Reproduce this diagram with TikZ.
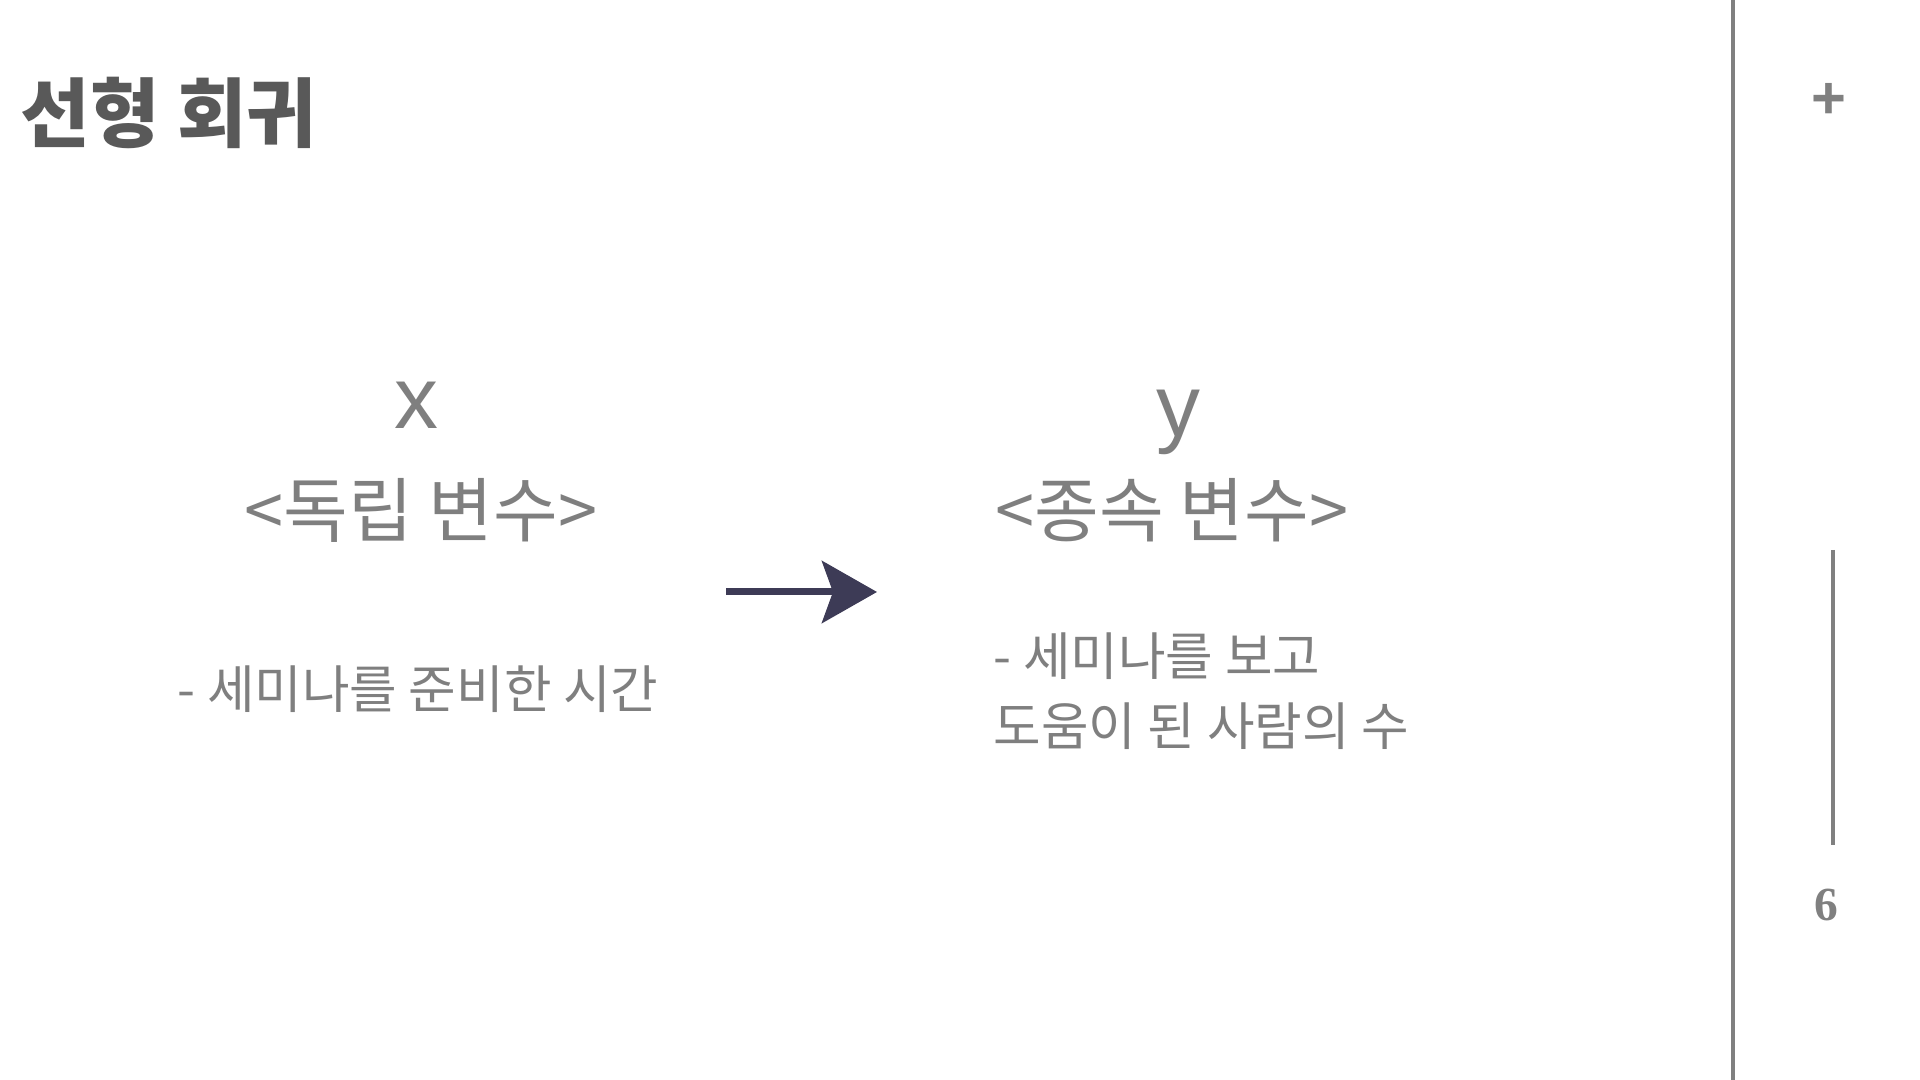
\documentclass[tikz,border=0pt]{standalone}
\usepackage{fontspec}
\setmainfont{Noto Sans CJK KR}
\newfontfamily\varfont{Liberation Sans}
\newfontfamily\pagefont{Liberation Serif}
\usepackage{xcolor}
\usepackage{tikz}
\usetikzlibrary{arrows.meta, positioning}

\definecolor{titlegray}{HTML}{595959}
\definecolor{textgray}{HTML}{7F7F7F}
\definecolor{rulegray}{HTML}{808080}
\definecolor{arrownavy}{HTML}{3D3B56}

\begin{document}
\begin{tikzpicture}[
    x=0.01cm, y=-0.01cm,
    title/.style={inner sep=0, text=titlegray, font=\fontsize{21.5}{26}\selectfont\bfseries},
    var/.style={inner sep=0, text=textgray, font=\varfont\fontsize{25}{30}\selectfont},
    kind/.style={inner sep=0, text=textgray, font=\fontsize{20}{24}\selectfont},
    desc/.style={inner sep=0, text=textgray, align=left, font=\fontsize{14.7}{20}\selectfont},
    rule/.style={draw=rulegray, line width=0.04cm},
    flow/.style={-{Stealth[length=0.55cm, width=0.62cm, inset=0.11cm]}, draw=arrownavy, fill=arrownavy, line width=0.07cm}
  ]
    \useasboundingbox (0,0) rectangle (1920,1080);

    % Title
    \node (title) [title, anchor=west] at (20,113) {선형 회귀};

    % Independent variable
    \node (varX) [var] at (416,405) {x};
    \node (kindX) [kind] at (421,510) {<독립 변수>};
    \node (descX) [desc] at (418,689) {- 세미나를 준비한 시간};

    % Dependent variable
    \node (varY) [var] at (1178,422) {y};
    \node (kindY) [kind] at (1172,510) {<종속 변수>};
    \node (descY) [desc, anchor=north west] at (993,632) {- 세미나를 보고\\도움이 된 사람의 수};

    % Arrow
    \coordinate (flowStart) at (726,592);
    \coordinate (flowEnd) at (877,592);
    \draw [flow] (flowStart) -- (flowEnd);

    % Side bar
    \coordinate (barTop) at (1733,0);
    \coordinate (barBottom) at (1733,1080);
    \draw [rule] (barTop) -- (barBottom);
    \node (plus) [inner sep=0, text=rulegray, font=\varfont\bfseries\fontsize{17}{17}\selectfont] at (1829,101) {+};
    \coordinate (markTop) at (1833,550);
    \coordinate (markBottom) at (1833,845);
    \draw [rule] (markTop) -- (markBottom);
    \node (page) [inner sep=0, text=rulegray, font=\pagefont\bfseries\fontsize{13.5}{16}\selectfont] at (1826,905) {6};

  \end{tikzpicture}
\end{document}
